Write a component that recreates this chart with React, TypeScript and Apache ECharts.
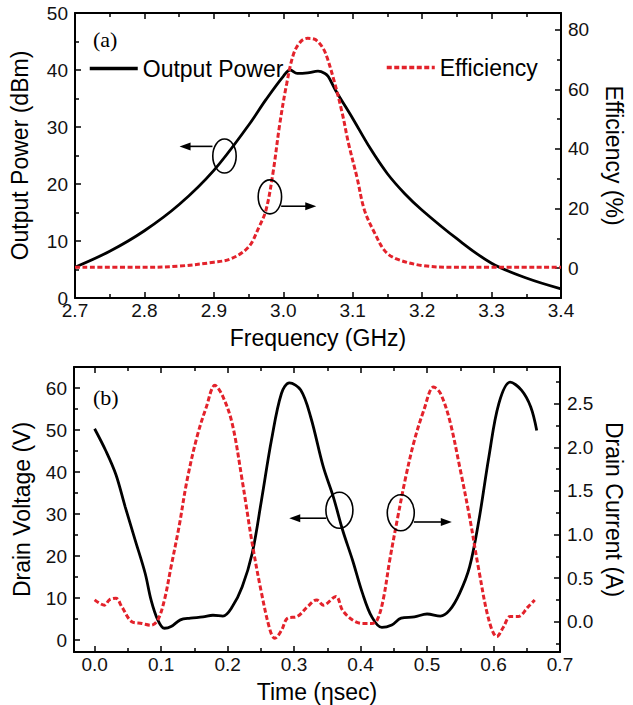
import React, { useEffect, useRef } from "react";
import * as echarts from "echarts";

// ---- Panel (a): frequency sweep ----
const powerFreq = [2.7, 2.75, 2.8, 2.85, 2.9, 2.95, 2.975, 3.0, 3.01, 3.02, 3.035, 3.05, 3.06, 3.065, 3.075, 3.1, 3.125, 3.15, 3.175, 3.2, 3.25, 3.3, 3.35, 3.4];
const powerDbm = [5.4, 8.2, 11.8, 16.4, 22.4, 30.3, 34.8, 38.9, 40.0, 39.4, 39.5, 39.8, 39.4, 38.8, 36.5, 31.5, 26.3, 21.8, 18.3, 15.4, 10.4, 6.1, 3.5, 1.6];

const effFreq = [2.7, 2.8, 2.85, 2.9, 2.925, 2.95, 2.965, 2.975, 2.985, 2.995, 3.005, 3.015, 3.025, 3.035, 3.045, 3.054, 3.061, 3.073, 3.085, 3.094, 3.106, 3.117, 3.132, 3.146, 3.162, 3.2, 3.25, 3.4];
const effPct = [0.3, 0.3, 0.7, 2.0, 3.2, 7.1, 13.8, 19.4, 31.7, 48.5, 62, 72, 76, 77.1, 76.8, 74.9, 72, 63, 51.9, 41.8, 30.6, 19.4, 11.6, 5.9, 3.2, 0.9, 0.3, 0.3];

// ---- Panel (b): time-domain waveforms ----
const timeV = [0, 0.017, 0.032, 0.046, 0.061, 0.076, 0.085, 0.095, 0.105, 0.115, 0.129, 0.144, 0.163, 0.178, 0.193, 0.207, 0.222, 0.237, 0.251, 0.266, 0.281, 0.293, 0.31, 0.325, 0.344, 0.359, 0.373, 0.388, 0.403, 0.417, 0.432, 0.447, 0.461, 0.481, 0.5, 0.52, 0.534, 0.549, 0.564, 0.578, 0.593, 0.608, 0.625, 0.642, 0.656, 0.665];
const voltage = [50.3, 45.0, 39.4, 31.7, 23.8, 15.9, 9.5, 4.8, 2.8, 3.2, 4.8, 5.2, 5.5, 5.9, 5.7, 7.9, 12.7, 20.6, 33.3, 47.6, 58.7, 61.2, 59.5, 53.1, 41.2, 34.1, 26.2, 19.0, 11.1, 5.5, 3.0, 3.6, 5.2, 5.5, 6.2, 5.7, 7.1, 11.1, 17.4, 28.5, 43.6, 56.3, 61.4, 59.5, 55.5, 49.9];

const timeI = [0, 0.015, 0.022, 0.032, 0.041, 0.056, 0.071, 0.085, 0.095, 0.105, 0.115, 0.127, 0.139, 0.154, 0.168, 0.181, 0.193, 0.207, 0.222, 0.237, 0.251, 0.264, 0.271, 0.281, 0.29, 0.305, 0.32, 0.334, 0.344, 0.363, 0.373, 0.388, 0.403, 0.417, 0.425, 0.434, 0.444, 0.456, 0.468, 0.481, 0.495, 0.51, 0.52, 0.534, 0.549, 0.564, 0.578, 0.593, 0.605, 0.615, 0.625, 0.637, 0.652, 0.662];
const current = [0.25, 0.19, 0.25, 0.27, 0.17, 0.0, -0.02, -0.04, 0.02, 0.25, 0.63, 1.09, 1.62, 2.12, 2.46, 2.71, 2.58, 2.27, 1.62, 0.9, 0.33, -0.1, -0.19, -0.1, 0.04, 0.06, 0.17, 0.25, 0.19, 0.29, 0.13, 0.02, -0.02, -0.02, 0.02, 0.25, 0.71, 1.2, 1.66, 2.08, 2.42, 2.69, 2.62, 2.31, 1.78, 1.2, 0.59, 0.02, -0.17, -0.06, 0.06, 0.06, 0.17, 0.25];

// Annotation anchors (data coordinates): [grid, ellipseX, ellipseY, arrowFromX, arrowToX, arrowY]
const annotations = [
  [0, 2.9153, 24.9, 2.898, 2.8506, 26.6],
  [0, 2.9807, 17.75, 2.9969, 3.0475, 16.1],
  [1, 0.3682, 30.9, 0.3485, 0.2928, 29.0],
  [1, 0.4605, 30.3, 0.4802, 0.5373, 28.1],
];

const zip = (xs: number[], ys: number[]) => xs.map((x, i) => [x, ys[i]]);

const FONT = "'Liberation Sans', Arial, Helvetica, sans-serif";
const SERIF = "'Liberation Serif', 'Times New Roman', serif";
const RED = "#e3222b";
const TICK = 19;
const TITLE = 23;

const isMult = (v: number, step: number) => Math.abs(v / step - Math.round(v / step)) < 1e-6;

function xAxisCommon(gridIndex: number, min: number, max: number, top: boolean, name: string) {
  return {
    type: "value",
    gridIndex,
    position: top ? "top" : "bottom",
    min,
    max,
    minInterval: 0.1,
    maxInterval: 0.1,
    name: top ? "" : name,
    nameLocation: "middle",
    nameGap: 28,
    nameMoveOverlap: false,
    nameTextStyle: { fontSize: TITLE, color: "#000", fontFamily: FONT },
    axisLine: { show: true, onZero: false, lineStyle: { color: "#000", width: 2 } },
    axisTick: { show: true, inside: true, length: 6, lineStyle: { color: "#000", width: 1.5 } },
    minorTick: { show: true, splitNumber: 2, length: 4, lineStyle: { color: "#000", width: 1.5 } },
    axisLabel: {
      show: !top,
      margin: 3,
      fontSize: TICK,
      color: "#111",
      fontFamily: FONT,
      formatter: (v: number) => (isMult(v, 0.1) ? v.toFixed(1) : ""),
    },
    splitLine: { show: false },
    minorSplitLine: { show: false },
  };
}

function yAxisCommon(
  gridIndex: number,
  min: number,
  max: number,
  step: number,
  right: boolean,
  name: string,
  digits: number,
  nameGap: number
) {
  return {
    type: "value",
    gridIndex,
    position: right ? "right" : "left",
    min,
    max,
    minInterval: step,
    maxInterval: step,
    name,
    nameLocation: "middle",
    nameRotate: right ? -90 : 90,
    nameGap,
    nameMoveOverlap: false,
    nameTextStyle: { fontSize: TITLE, color: "#000", fontFamily: FONT },
    axisLine: { show: true, onZero: false, lineStyle: { color: "#000", width: 2 } },
    axisTick: { show: true, inside: true, length: 6, lineStyle: { color: "#000", width: 1.5 } },
    minorTick: { show: true, splitNumber: 2, length: 4, lineStyle: { color: "#000", width: 1.5 } },
    axisLabel: {
      margin: 7,
      fontSize: TICK,
      color: "#111",
      fontFamily: FONT,
      formatter: (v: number) => (isMult(v, step) ? v.toFixed(digits) : ""),
    },
    splitLine: { show: false },
    minorSplitLine: { show: false },
  };
}

export default function App() {
  const ref = useRef<HTMLDivElement>(null);

  useEffect(() => {
    if (!ref.current) return;
    const chart = echarts.init(ref.current, undefined, { renderer: "svg" });

    const legendCommon = {
      orient: "horizontal",
      itemWidth: 48,
      itemHeight: 14,
      itemGap: 5,
      padding: 0,
      selectedMode: false,
      itemStyle: { opacity: 0 },
      lineStyle: { width: 3.5 },
      textStyle: { fontSize: TITLE, color: "#000", fontFamily: FONT },
    };

    const option: any = {
      animation: false,
      backgroundColor: "#fff",
      textStyle: { fontFamily: FONT },
      grid: [
        { left: 75, top: 13, width: 498, height: 285 },
        { left: 74, top: 367, width: 499, height: 285 },
      ],
      legend: [
        { ...legendCommon, data: ["Output Power"], left: 88, top: 57 },
        { ...legendCommon, data: ["Efficiency"], left: 385, top: 56 },
      ],
      xAxis: [
        xAxisCommon(0, 2.7, 3.4, false, "Frequency (GHz)"),
        xAxisCommon(0, 2.7, 3.4, true, ""),
        xAxisCommon(1, -0.031, 0.7, false, "Time (\u03b7sec)"),
        xAxisCommon(1, -0.031, 0.7, true, ""),
      ],
      yAxis: [
        yAxisCommon(0, 0, 50, 10, false, "Output Power (dBm)", 0, 44),
        yAxisCommon(0, -10, 85.6, 20, true, "Efficiency (%)", 0, 41),
        yAxisCommon(1, -2.85, 65, 10, false, "Drain Voltage (V)", 0, 41),
        yAxisCommon(1, -0.347, 2.92, 0.5, true, "Drain Current (A)", 1, 42),
      ],
      series: [
        {
          name: "Output Power",
          type: "line",
          xAxisIndex: 0,
          yAxisIndex: 0,
          data: zip(powerFreq, powerDbm),
          smooth: 0.35,
          symbol: "none",
          lineStyle: { color: "#000", width: 2.8 },
          itemStyle: { color: "#000" },
          z: 3,
        },
        {
          name: "Efficiency",
          type: "line",
          xAxisIndex: 0,
          yAxisIndex: 1,
          data: zip(effFreq, effPct),
          smooth: 0.35,
          symbol: "none",
          lineStyle: { color: RED, width: 3, type: [5, 2.5] },
          itemStyle: { color: RED },
          z: 4,
        },
        {
          name: "Drain Voltage",
          type: "line",
          xAxisIndex: 2,
          yAxisIndex: 2,
          data: zip(timeV, voltage),
          smooth: 0.35,
          symbol: "none",
          lineStyle: { color: "#000", width: 2.8 },
          z: 3,
        },
        {
          name: "Drain Current",
          type: "line",
          xAxisIndex: 2,
          yAxisIndex: 3,
          data: zip(timeI, current),
          smooth: 0.35,
          symbol: "none",
          lineStyle: { color: RED, width: 3, type: [5, 2.5] },
          z: 4,
        },
      ],
    };

    chart.setOption(option);

    // annotations: ellipses with arrows, placed through the axes
    const graphics: any[] = [
      {
        type: "text",
        left: 93,
        top: 28,
        style: { text: "(a)", fontSize: 22, fontFamily: SERIF, fill: "#000" },
      },
      {
        type: "text",
        left: 93,
        top: 386,
        style: { text: "(b)", fontSize: 22, fontFamily: SERIF, fill: "#000" },
      },
    ];
    annotations.forEach(([g, ex, ey, ax1, ax2, ay]) => {
      const finder = g === 0 ? { xAxisIndex: 0, yAxisIndex: 0 } : { xAxisIndex: 2, yAxisIndex: 2 };
      const c = chart.convertToPixel(finder as any, [ex, ey]) as number[];
      const p1 = chart.convertToPixel(finder as any, [ax1, ay]) as number[];
      const p2 = chart.convertToPixel(finder as any, [ax2, ay]) as number[];
      const rx = g === 0 ? 11.7 : 13.5;
      const ry = g === 0 ? 17 : 18;
      graphics.push({
        type: "ellipse",
        shape: { cx: c[0], cy: c[1], rx, ry },
        style: { fill: "none", stroke: "#000", lineWidth: 1.6 },
        z: 10,
      });
      const dir = p2[0] > p1[0] ? 1 : -1;
      const headLen = 11;
      graphics.push({
        type: "line",
        shape: { x1: p1[0], y1: p1[1], x2: p2[0] - dir * headLen * 0.7, y2: p2[1] },
        style: { stroke: "#000", lineWidth: 1.6 },
        z: 10,
      });
      graphics.push({
        type: "polygon",
        shape: {
          points: [
            [p2[0], p2[1]],
            [p2[0] - dir * headLen, p2[1] - 4],
            [p2[0] - dir * headLen, p2[1] + 4],
          ],
        },
        style: { fill: "#000", stroke: "none" },
        z: 10,
      });
    });
    chart.setOption({ graphic: graphics });

    return () => chart.dispose();
  }, []);

  return (
    <div
      ref={ref}
      style={{ position: "absolute", left: 0, top: 0, width: 633, height: 705, background: "#fff" }}
    />
  );
}
